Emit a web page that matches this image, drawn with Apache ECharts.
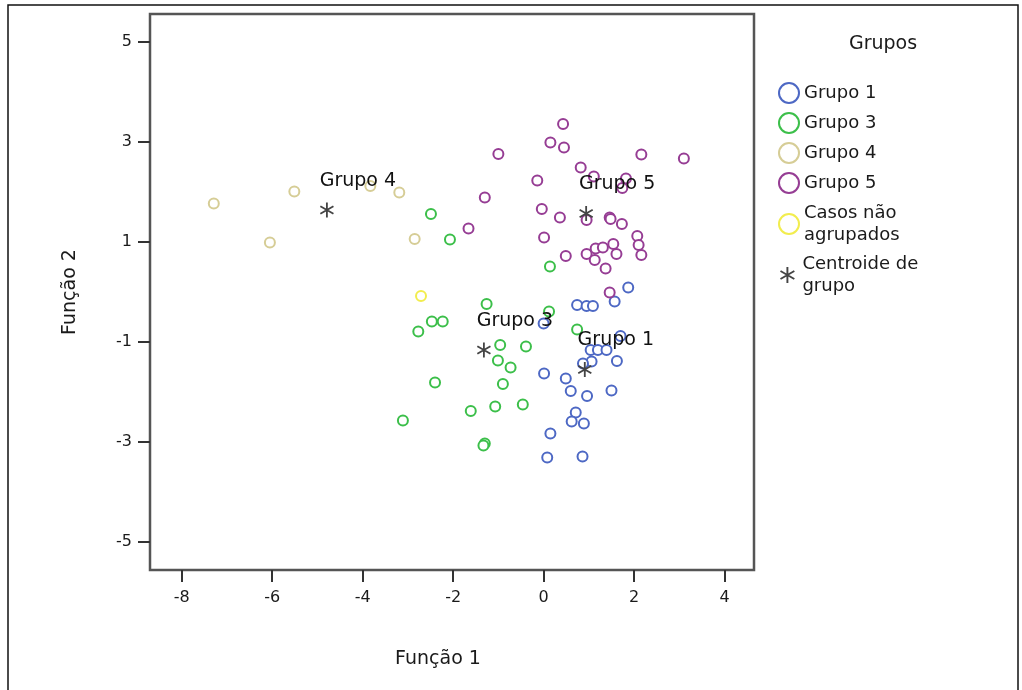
<!DOCTYPE html>
<html>
<head>
<meta charset="utf-8">
<script src="https://cdn.jsdelivr.net/npm/echarts@6/dist/echarts.min.js"></script>
<style>
  html, body { margin: 0; padding: 0; background: #fff; }
  #chart { width: 1022px; height: 690px; }
</style>
</head>
<body>
<div id="chart"></div>
<script>
// function scores, [Função 1, Função 2]
var grupo1 = [
    [0.00, -0.63], [0.74, -0.26], [0.95, -0.28], [1.09, -0.28], [1.57, -0.19],
    [1.87, 0.09], [1.70, -0.88], [1.04, -1.16], [1.20, -1.16], [1.39, -1.16],
    [1.06, -1.39], [0.87, -1.43], [1.62, -1.38], [0.01, -1.63], [0.49, -1.73],
    [0.60, -1.98], [0.96, -2.08], [1.50, -1.97], [0.71, -2.41], [0.62, -2.59],
    [0.89, -2.63], [0.15, -2.83], [0.08, -3.31], [0.86, -3.29]
];
var grupo3 = [
    [-2.49, 1.56], [-2.07, 1.05], [0.14, 0.51], [-1.26, -0.24], [-2.47, -0.59],
    [-2.23, -0.59], [-2.77, -0.79], [0.12, -0.39], [0.74, -0.75], [-0.96, -1.06],
    [-0.39, -1.09], [-1.01, -1.37], [-0.73, -1.51], [-2.40, -1.81], [-0.90, -1.84],
    [-1.61, -2.38], [-1.07, -2.29], [-0.46, -2.25], [-3.11, -2.57], [-1.30, -3.03],
    [-1.33, -3.07]
];
var grupo4 = [
    [-7.29, 1.77], [-5.51, 2.01], [-6.05, 0.99], [-3.83, 2.12], [-3.19, 1.99], [-2.85, 1.06]
];
var grupo5 = [
    [0.43, 3.36], [0.15, 2.99], [0.45, 2.89], [-1.00, 2.76], [2.16, 2.75],
    [3.10, 2.67], [0.82, 2.49], [1.11, 2.31], [1.82, 2.27], [1.74, 2.08],
    [-0.14, 2.23], [-1.30, 1.89], [-0.04, 1.66], [0.36, 1.49], [0.95, 1.44],
    [1.46, 1.49], [1.48, 1.46], [1.73, 1.36], [-1.66, 1.27], [0.01, 1.09],
    [2.07, 1.12], [2.10, 0.94], [2.16, 0.74], [0.49, 0.72], [0.95, 0.76],
    [1.15, 0.87], [1.31, 0.89], [1.54, 0.96], [1.61, 0.76], [1.13, 0.64],
    [1.37, 0.47], [1.46, -0.01]
];
var naoAgrupados = [[-2.71, -0.08]];

var centroidNames = ['Grupo 1', 'Grupo 3', 'Grupo 4', 'Grupo 5'];
var centroidX = [0.91, -1.32, -4.79, 0.94];
var centroidY = [-1.55, -1.16, 1.64, 1.57];

var xTicks = [-8, -6, -4, -2, 0, 2, 4];
var yTicks = [-5, -3, -1, 1, 3, 5];

var FONT = 'DejaVu Sans';
var TEXT = '#1a1a1a';

// asterisk-like centroid marker, three crossed bars
var STAR = 'path://M8.8,0L11.2,0L11.2,20L8.8,20Z' +
    'M0.74,6.04L1.94,3.96L19.26,13.96L18.06,16.04Z' +
    'M18.06,3.96L19.26,6.04L1.94,16.04L0.74,13.96Z';

function pointSeries(name, data, color) {
    return {
        name: name,
        type: 'scatter',
        data: data,
        symbol: 'emptyCircle',
        symbolSize: 10,
        itemStyle: { color: color, borderColor: color, borderWidth: 1.6, opacity: 1 },
        emphasis: { disabled: true }
    };
}

var centroids = centroidNames.map(function (n, i) {
    return { name: n, value: [centroidX[i], centroidY[i]] };
});

var chart = echarts.init(document.getElementById('chart'));
chart.setOption({
    animation: false,
    textStyle: { fontFamily: FONT },
    title: {
        text: 'Grupos',
        left: 878,
        top: 30,
        textAlign: 'center',
        textStyle: { fontFamily: FONT, fontSize: 19, fontWeight: 'normal', color: TEXT }
    },
    graphic: [{
        type: 'rect',
        shape: { x: 8, y: 5, width: 1010, height: 700 },
        style: { fill: 'none', stroke: '#111', lineWidth: 1.5 },
        silent: true
    }],
    legend: [{
        orient: 'vertical',
        left: 773,
        top: 77,
        itemWidth: 20,
        itemHeight: 20,
        itemGap: 8,
        data: ['Grupo 1', 'Grupo 3', 'Grupo 4', 'Grupo 5', 'Casos não agrupados'],
        formatter: function (n) {
            return n === 'Casos não agrupados' ? 'Casos não\nagrupados' : n;
        },
        itemStyle: { borderWidth: 2 },
        textStyle: { fontFamily: FONT, fontSize: 18, lineHeight: 22, color: TEXT }
    }, {
        orient: 'vertical',
        left: 775,
        top: 248,
        itemWidth: 20,
        itemHeight: 16,
        data: ['Centroide de grupo'],
        formatter: function () { return 'Centroide de\ngrupo'; },
        textStyle: { fontFamily: FONT, fontSize: 18, lineHeight: 22, color: TEXT }
    }],
    grid: {
        left: 150, right: 268, top: 14, bottom: 120,
        show: true,
        borderColor: '#555',
        borderWidth: 2.5,
        containLabel: false
    },
    xAxis: {
        type: 'value',
        position: 'bottom',
        min: -8.7,
        max: 4.65,
        name: 'Função 1',
        nameLocation: 'middle',
        nameGap: 80,
        nameTextStyle: { fontFamily: FONT, fontSize: 19, color: TEXT, padding: [0, 28, 0, 0] },
        splitLine: { show: false },
        axisLine: { show: false, onZero: false },
        axisTick: { show: true, length: 12, customValues: xTicks, lineStyle: { color: '#333', width: 2 } },
        axisLabel: { customValues: xTicks, margin: 20, fontFamily: FONT, fontSize: 16, color: TEXT }
    },
    yAxis: {
        type: 'value',
        position: 'left',
        min: -5.56,
        max: 5.56,
        name: 'Função 2',
        nameLocation: 'middle',
        nameGap: 70,
        nameTextStyle: { fontFamily: FONT, fontSize: 19, color: TEXT },
        splitLine: { show: false },
        axisLine: { show: false, onZero: false },
        axisTick: { show: true, length: 12, customValues: yTicks, lineStyle: { color: '#333', width: 2 } },
        axisLabel: { customValues: yTicks, margin: 18, fontFamily: FONT, fontSize: 16, color: TEXT }
    },
    series: [
        pointSeries('Grupo 1', grupo1, '#4d68c4'),
        pointSeries('Grupo 3', grupo3, '#3cbf4a'),
        pointSeries('Grupo 4', grupo4, '#d6cd96'),
        pointSeries('Grupo 5', grupo5, '#963d94'),
        pointSeries('Casos não agrupados', naoAgrupados, '#f2ed4e'),
        {
            name: 'Centroide de grupo',
            type: 'scatter',
            data: centroids,
            symbol: STAR,
            symbolSize: [14, 15],
            itemStyle: { color: '#444', opacity: 1 },
            emphasis: { disabled: true },
            label: {
                show: true,
                position: 'inside',
                offset: [31, -29],
                formatter: '{b}',
                fontFamily: FONT,
                fontSize: 19,
                color: '#111'
            },
            z: 5
        }
    ]
});
</script>
</body>
</html>
